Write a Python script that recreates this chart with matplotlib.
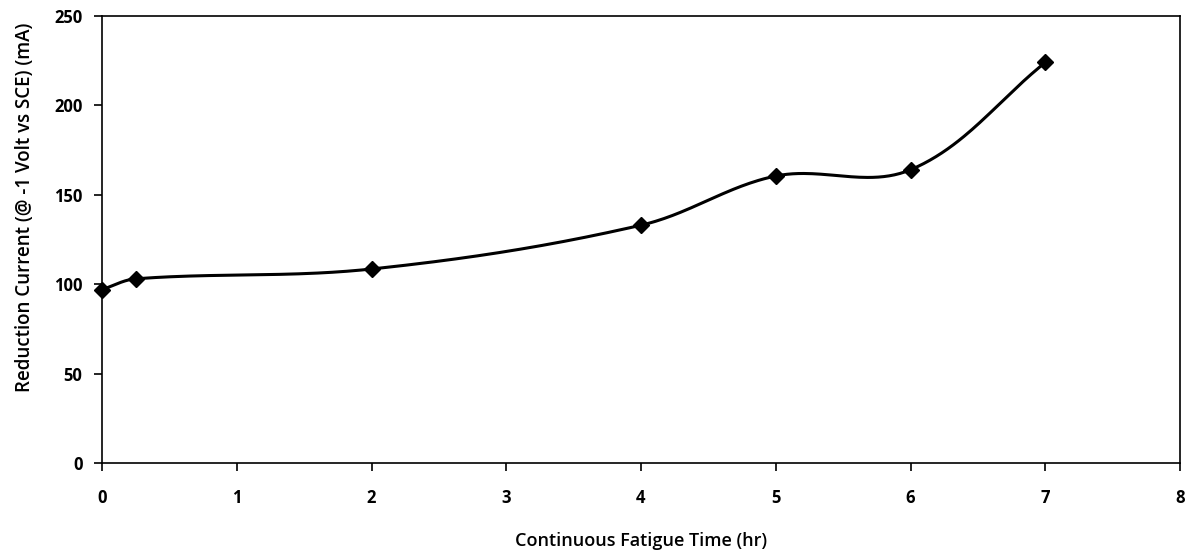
import matplotlib.pyplot as plt
import numpy as np

# Fatigue time (hr) vs reduction current (mA)
time_hr = [0, 0.25, 2, 4, 5, 6, 7]
current_ma = [97, 103, 108.5, 133, 160.5, 164, 224]

x_ticks = [0, 1, 2, 3, 4, 5, 6, 7, 8]
y_ticks = [0, 50, 100, 150, 200, 250]


def smooth_curve(xs, ys, sx, sy, k=0.35, n=50):
    """Excel-like smoothed line: Bezier segments, tangents sized by segment length (in screen units)."""
    p = np.column_stack([np.asarray(xs) * sx, np.asarray(ys) * sy]).astype(float)
    m = len(p)
    tang = np.zeros_like(p)
    for i in range(m):
        a = p[max(i - 1, 0)]
        b = p[min(i + 1, m - 1)]
        d = b - a
        tang[i] = d / np.hypot(*d)
    t = np.linspace(0, 1, n)[:, None]
    out = []
    for i in range(m - 1):
        p1, p2 = p[i], p[i + 1]
        L = np.hypot(*(p2 - p1))
        c1 = p1 + tang[i] * L * k
        c2 = p2 - tang[i + 1] * L * k
        seg = ((1 - t) ** 3) * p1 + 3 * ((1 - t) ** 2) * t * c1 + 3 * (1 - t) * t ** 2 * c2 + t ** 3 * p2
        out.append(seg)
    curve = np.vstack(out)
    return curve[:, 0] / sx, curve[:, 1] / sy


plt.rcParams['font.family'] = ['Open Sans', 'DejaVu Sans']

fig = plt.figure(figsize=(11.95, 5.56), dpi=100)
ax = fig.add_axes([102 / 1195, 1 - 463 / 556, 1078 / 1195, 447 / 556])

# pixels per data unit, so the smoothing behaves as on screen
cx, cy = smooth_curve(time_hr, current_ma, 1078 / 8, 447 / 250)
ax.plot(cx, cy, color='black', linewidth=2.2, zorder=3)
ax.plot(time_hr, current_ma, linestyle='none', marker='D', markersize=8,
        color='black', zorder=4, clip_on=False)

ax.set_xlim(0, 8)
ax.set_ylim(0, 250)
ax.set_xticks(x_ticks)
ax.set_yticks(y_ticks)
ax.tick_params(axis='both', direction='out', length=6, width=1.2, labelsize=12)
ax.tick_params(axis='x', pad=13)
ax.tick_params(axis='y', pad=8)
for lbl in ax.get_xticklabels() + ax.get_yticklabels():
    lbl.set_fontweight('bold')
for s in ax.spines.values():
    s.set_linewidth(1.2)

ax.set_xlabel('Continuous Fatigue Time (hr)', fontsize=13, fontweight='semibold', labelpad=18)
ax.set_ylabel('Reduction Current (@ -1 Volt vs SCE) (mA)', fontsize=13.5, fontweight='semibold')
ax.yaxis.set_label_coords(-0.062, 0.573)

fig.savefig('out.png', dpi=100)
